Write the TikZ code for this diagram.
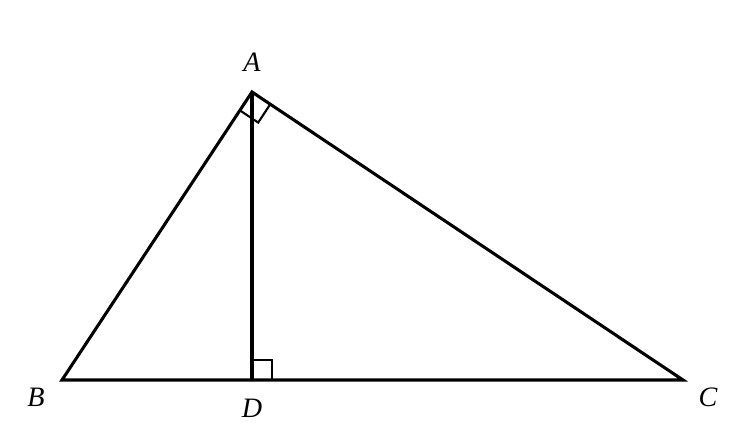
\documentclass[tikz,border=0pt]{standalone}
\usepackage{fontspec}
\setmainfont{Liberation Serif}
\usetikzlibrary{calc}

\tikzset{
  side/.style={line width=1.75pt, line join=miter},
  rightmark/.style={line width=1.2pt},
  vlabel/.style={font=\fontsize{16}{18}\selectfont\itshape, inner sep=0pt}
}

\begin{document}
\begin{tikzpicture}[x=0.02cm, y=-0.02cm]
        % Page
        \useasboundingbox (0,0) rectangle (740,440);

        % Vertices
        \coordinate (A) at (252,92);
        \coordinate (B) at (62,380);
        \coordinate (C) at (683,380);
        \coordinate (D) at (252,380);

        % Triangle and altitude
        \draw[side] (A) -- (B) -- (C) -- cycle;
        \draw[side] (A) -- (D);

        % Right angle at A
        \coordinate (ab) at ($(A)!0.44cm!(B)$);
        \coordinate (ac) at ($(A)!0.44cm!(C)$);
        \draw[rightmark] (ab) -- ($(ab)+(ac)-(A)$) -- (ac);

        % Right angle at D
        \coordinate (dc) at ($(D)!0.4cm!(C)$);
        \coordinate (da) at ($(D)!0.4cm!(A)$);
        \draw[rightmark] (da) -- ($(da)+(dc)-(D)$) -- (dc);

        % Labels
        \node[vlabel] (labA) at (252,62) {A};
        \node[vlabel] (labB) at (36,397) {B};
        \node[vlabel] (labC) at (708,397) {C};
        \node[vlabel] (labD) at (252,408) {D};
\end{tikzpicture}
\end{document}
